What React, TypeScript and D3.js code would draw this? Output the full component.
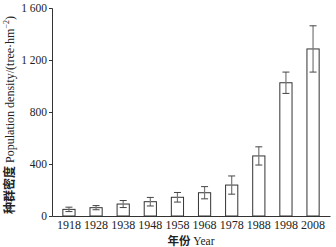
import { useEffect, useRef } from 'react';
import * as d3 from 'd3';

const years = ['1918', '1928', '1938', '1948', '1958', '1968', '1978', '1988', '1998', '2008'];
const density = [51, 64, 92, 110, 144, 179, 238, 462, 1025, 1285];
const errors = [17, 16, 27, 33, 37, 47, 70, 70, 82, 178];
const yTicks = [0, 400, 800, 1200, 1600];

const W = 336;
const H = 247;
const margin = { top: 8, right: 6, bottom: 31, left: 52 };

export default function App() {
  const svgRef = useRef<SVGSVGElement>(null);

  useEffect(() => {
    if (!svgRef.current) return;
    const svg = d3.select(svgRef.current);
    svg.selectAll('*').remove();

    const x = d3.scaleBand<string>()
      .domain(years)
      .range([margin.left, W - margin.right])
      .paddingInner(0.55)
      .paddingOuter(0.4);

    const y = d3.scaleLinear()
      .domain([0, 1600])
      .range([H - margin.bottom, margin.top]);

    const serif = '"Liberation Serif", "Times New Roman", serif';

    // y axis
    const yAxis = svg.append('g')
      .attr('transform', `translate(${margin.left},0)`)
      .call(d3.axisLeft(y).tickValues(yTicks).tickSize(3).tickPadding(2)
        .tickFormat(d => d3.format(',')(d as number).replace(',', ' ')));
    yAxis.select('.domain').attr('stroke', '#333');
    yAxis.selectAll('.tick line').attr('stroke', '#333');
    yAxis.selectAll('.tick text')
      .attr('fill', '#222')
      .style('white-space', 'pre')
      .style('font-family', serif)
      .style('font-size', '11.5px');

    // x axis
    const xAxis = svg.append('g')
      .attr('transform', `translate(0,${y(0)})`)
      .call(d3.axisBottom(x).tickSize(0).tickPadding(4).tickSizeOuter(0));
    xAxis.select('.domain').attr('stroke', '#333');
    xAxis.selectAll('.tick text')
      .attr('fill', '#222')
      .style('font-family', serif)
      .style('font-size', '12px');

    // bars
    svg.append('g')
      .selectAll('rect')
      .data(years)
      .join('rect')
      .attr('x', d => x(d)!)
      .attr('y', (_, i) => y(density[i]))
      .attr('width', x.bandwidth())
      .attr('height', (_, i) => y(0) - y(density[i]))
      .attr('fill', 'white')
      .attr('stroke', '#333')
      .attr('stroke-width', 1);

    // error bars
    const eb = svg.append('g')
      .selectAll('g')
      .data(years)
      .join('g')
      .attr('transform', d => `translate(${x(d)! + x.bandwidth() / 2},0)`);
    eb.append('line')
      .attr('y1', (_, i) => y(density[i] + errors[i]))
      .attr('y2', (_, i) => y(density[i] - errors[i]))
      .attr('stroke', '#777')
      .attr('stroke-width', 1.2);
    eb.append('line')
      .attr('x1', -3.5).attr('x2', 3.5)
      .attr('y1', (_, i) => y(density[i] + errors[i]))
      .attr('y2', (_, i) => y(density[i] + errors[i]))
      .attr('stroke', '#444');
    eb.append('line')
      .attr('x1', -3.5).attr('x2', 3.5)
      .attr('y1', (_, i) => y(density[i] - errors[i]))
      .attr('y2', (_, i) => y(density[i] - errors[i]))
      .attr('stroke', '#444');

    // x title
    const xt = svg.append('text')
      .attr('x', (margin.left + W - margin.right) / 2)
      .attr('y', H - 2)
      .attr('text-anchor', 'middle')
      .attr('fill', '#222')
      .style('font-size', '11.5px');
    xt.append('tspan').style('font-family', '"Noto Sans CJK SC"').style('font-weight', 'bold').text('年份');
    xt.append('tspan').style('font-family', serif).text(' Year');

    // y title
    const yt = svg.append('text')
      .attr('transform', `translate(14,${(margin.top + H - margin.bottom) / 2 + 3}) rotate(-90)`)
      .attr('text-anchor', 'middle')
      .attr('fill', '#222')
      .style('font-size', '12px');
    yt.append('tspan').style('font-family', '"Noto Sans CJK SC"').style('font-weight', 'bold').text('种群密度');
    yt.append('tspan').style('font-family', serif).text(' Population density/(tree\u00b7hm');
    yt.append('tspan').style('font-family', serif).style('font-size', '8px').attr('dy', -5).text('\u22122');
    yt.append('tspan').style('font-family', serif).attr('dy', 5).text(')');
  }, []);

  return (
    <svg ref={svgRef} width={W} height={H}
      style={{ position: 'absolute', left: 0, top: 0, background: 'white' }} />
  );
}
